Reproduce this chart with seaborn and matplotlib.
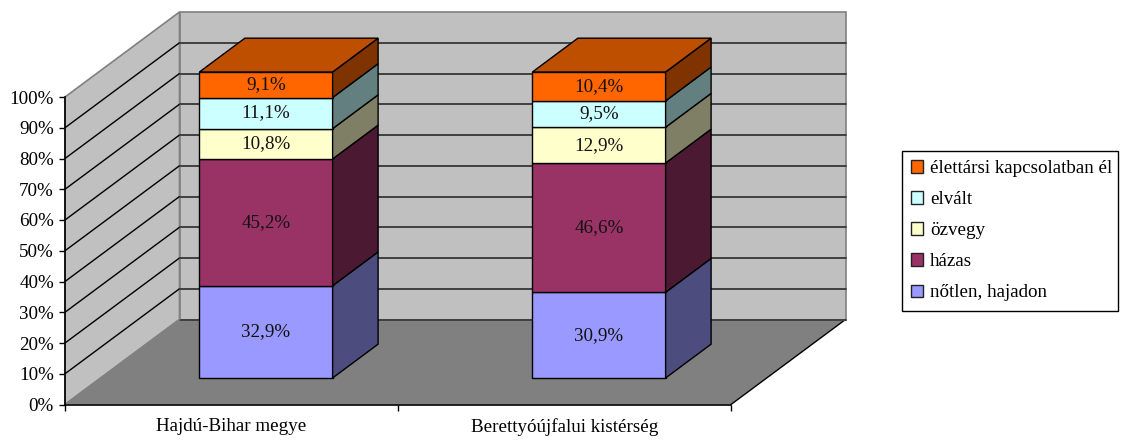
"""Stacked 100% bars drawn with a fake 3D box around them."""
import numpy as np
import pandas as pd
import matplotlib.pyplot as plt
import seaborn as sns
from matplotlib.patches import Polygon, Patch

areas = ["Hajdú-Bihar megye", "Berettyóújfalui kistérség"]
groups = ["nőtlen, hajadon", "házas", "özvegy", "elvált", "élettársi kapcsolatban él"]
hajdu_values = [32.9, 45.2, 10.8, 11.1, 9.1]
beretty_values = [30.9, 46.6, 12.9, 9.5, 10.4]
front_colors = ["#9999FF", "#993366", "#FFFFCC", "#CCFFFF", "#FF6600"]
side_colors = ["#4C4C7F", "#4C1933", "#7F7F66", "#647F7F", "#7F3300"]
top_color = "#BF4F00"
y_ticks = [0, 10, 20, 30, 40, 50, 60, 70, 80, 90, 100]

W, H = 1121, 441
FONT_SIZE = 13.7


def px_axes(fig, left, right, top, bottom):
    """Add an axes given by pixel edges, y counted from the top of the image."""
    return fig.add_axes([left / W, 1 - bottom / H, (right - left) / W, (bottom - top) / H])


sns.set_theme(style="white")
plt.rcParams["font.family"] = ["Liberation Serif", "DejaVu Serif"]
plt.rcParams["font.size"] = FONT_SIZE

df = pd.DataFrame({"group": groups, areas[0]: hajdu_values, areas[1]: beretty_values})
long_df = df.melt(id_vars="group", var_name="area", value_name="value")
long_df["area"] = pd.Categorical(long_df["area"], categories=areas, ordered=True)
long_df["share"] = long_df["value"] / long_df.groupby("area", observed=True)["value"].transform("sum") * 100

fig = plt.figure(figsize=(W / 100, H / 100), dpi=100)

# front plane of the box carries the axes, the bars sit on a shifted copy of it
ax = px_axes(fig, 65, 731, 97, 404.5)
ax_bar = px_axes(fig, 65 + 34.5, 731 + 34.5, 72, 378)
ax_bar.set_zorder(ax.get_zorder() + 1)
ax_bar.patch.set_visible(False)

px_x = 2 / 666
px_y = 100 / 307.5
wall_dx, wall_dy = 114.5 * px_x, 85 * px_y
bar_dx, bar_dy = 45.5 * px_x, 34 * px_y
x0, x1 = -0.5, 1.5

# walls and floor
ax.add_patch(Polygon([(x0, 0), (x0 + wall_dx, wall_dy), (x0 + wall_dx, 100 + wall_dy), (x0, 100)],
                     facecolor="#C0C0C0", edgecolor="#808080", lw=1.2, clip_on=False, zorder=1))
ax.add_patch(Polygon([(x0 + wall_dx, wall_dy), (x1 + wall_dx, wall_dy),
                      (x1 + wall_dx, 100 + wall_dy), (x0 + wall_dx, 100 + wall_dy)],
                     facecolor="#C0C0C0", edgecolor="#808080", lw=1.2, clip_on=False, zorder=1))
ax.add_patch(Polygon([(x0, 0), (x1, 0), (x1 + wall_dx, wall_dy), (x0 + wall_dx, wall_dy)],
                     facecolor="#808080", edgecolor="none", clip_on=False, zorder=1))
ax.plot([x1, x1 + wall_dx], [0, wall_dy], color="black", lw=1, clip_on=False, zorder=2)

# gridlines, skipping the top edge which is the wall outline
for t in y_ticks:
    if t == 100:
        continue
    back_y = t + wall_dy
    if t > 0:
        ax.plot([x0, x0 + wall_dx], [t, back_y], color="black", lw=1, clip_on=False, zorder=2)
    ax.plot([x0 + wall_dx, x1 + wall_dx], [back_y, back_y], color="#404040", lw=1.4,
            clip_on=False, zorder=2)
ax.plot([x0, x0 + wall_dx], [0, wall_dy], color="#808080", lw=1.2, clip_on=False, zorder=2)

ax.set_xlim(x0, x1)
ax.set_ylim(0, 100)
ax.set_yticks(y_ticks)
ax.set_yticklabels([f"{t}%" for t in y_ticks])
ax.set_xticks([-0.5, 0.5, 1.5])
ax.set_xticklabels([])
ax.set_xticks([0, 1], labels=areas, minor=True)
ax.tick_params(axis="both", which="major", length=4, width=1, color="black", direction="out",
               left=True, bottom=True, labelsize=FONT_SIZE, labelcolor="black", pad=4)
ax.tick_params(axis="x", which="minor", length=0, labelsize=FONT_SIZE, labelcolor="black", pad=10)
ax.set_xlabel("")
ax.set_ylabel("")
sns.despine(ax=ax, top=True, right=True)
for side in ("left", "bottom"):
    ax.spines[side].set_color("black")
    ax.spines[side].set_linewidth(1.2)
    ax.spines[side].set_zorder(3)

# stacked bars, one seaborn call per group
bottoms = np.zeros(len(areas))
bar_width = 0.4
for i, group in enumerate(groups):
    sub = long_df[long_df["group"] == group].sort_values("area")
    sns.barplot(data=sub, x="area", y="share", order=areas, color=front_colors[i], saturation=1,
                width=bar_width, bottom=bottoms, errorbar=None, edgecolor="black", linewidth=1,
                clip_on=False, ax=ax_bar)
    container = ax_bar.containers[-1]
    ax_bar.bar_label(container, labels=[f"{v:.1f}%".replace(".", ",") for v in sub["value"]],
                     label_type="center", fontsize=FONT_SIZE, color="#111111")
    tops = bottoms + sub["share"].to_numpy()
    for k in range(len(areas)):
        xr = k + bar_width / 2
        ax_bar.add_patch(Polygon([(xr, bottoms[k]), (xr + bar_dx, bottoms[k] + bar_dy),
                                  (xr + bar_dx, tops[k] + bar_dy), (xr, tops[k])],
                                 facecolor=side_colors[i], edgecolor="black", lw=1, clip_on=False))
    bottoms = tops

# lid of each bar
for k in range(len(areas)):
    xl, xr = k - bar_width / 2, k + bar_width / 2
    ax_bar.add_patch(Polygon([(xl, 100), (xr, 100), (xr + bar_dx, 100 + bar_dy), (xl + bar_dx, 100 + bar_dy)],
                             facecolor=top_color, edgecolor="black", lw=1, clip_on=False))

ax_bar.set_xlim(x0, x1)
ax_bar.set_ylim(0, 100)
ax_bar.set_xlabel("")
ax_bar.set_ylabel("")
ax_bar.set_xticks([])
ax_bar.set_yticks([])
for spine in ax_bar.spines.values():
    spine.set_visible(False)

handles = [Patch(facecolor=front_colors[i], edgecolor="#222222", lw=1, label=groups[i])
           for i in reversed(range(len(groups)))]
leg = fig.legend(handles=handles, loc="upper left",
                 bbox_to_anchor=(902 / W, 1 - 305 / H, 216 / W, 154 / H), mode="expand",
                 borderaxespad=0, frameon=True, fancybox=False, edgecolor="black", framealpha=1,
                 fontsize=FONT_SIZE, handlelength=0.63, handleheight=0.63, handletextpad=0.37,
                 labelspacing=0.74, borderpad=0.48, labelcolor="black")
leg.get_frame().set_linewidth(1)

fig.savefig("out.png", dpi=100)
